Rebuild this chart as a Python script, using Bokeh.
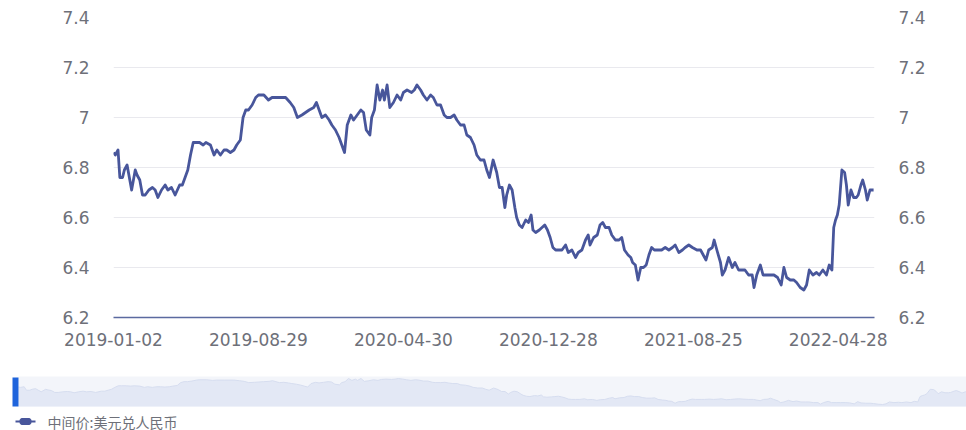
from bokeh.plotting import figure
from bokeh.models import Range1d, LinearAxis, FixedTicker
from bokeh.layouts import column
from bokeh.embed import file_html
from bokeh.resources import INLINE
from bokeh.core.properties import value

# ---------------- data ----------------
series_name = "中间价:美元兑人民币"
n_points = 840  # trading days on the category axis

day_index = [0, 2, 5, 7, 10, 12, 15, 18, 20, 24, 26, 29, 32, 35, 39, 43, 46, 49, 53, 57,
             60, 64, 68, 73, 76, 79, 82, 85, 88, 91, 95, 99, 102, 107, 111, 114, 118, 122, 125, 129,
             133, 136, 140, 143, 146, 149, 153, 157, 160, 166, 171, 175, 182, 190, 195, 199, 203, 208, 212, 216,
             221, 224, 227, 230, 234, 238, 241, 245, 249, 252, 255, 258, 262, 265, 269, 273, 276, 279, 283, 285,
             288, 291, 294, 297, 299, 302, 305, 309, 313, 317, 320, 324, 329, 332, 335, 339, 342, 346, 350, 353,
             357, 361, 365, 368, 372, 376, 379, 383, 387, 390, 394, 398, 401, 405, 409, 412, 415, 419, 423, 426,
             429, 432, 434, 437, 440, 443, 445, 448, 451, 455, 458, 461, 463, 466, 470, 473, 476, 479, 482, 485,
             488, 491, 495, 499, 502, 506, 510, 513, 517, 521, 524, 526, 530, 534, 537, 540, 543, 547, 550, 554,
             558, 561, 564, 568, 571, 573, 576, 579, 582, 585, 588, 591, 594, 597, 602, 605, 609, 613, 617, 620,
             624, 628, 631, 635, 639, 644, 648, 651, 654, 657, 661, 663, 666, 670, 672, 675, 679, 683, 686, 690,
             694, 697, 701, 705, 707, 710, 714, 717, 721, 725, 729, 733, 737, 740, 743, 747, 751, 754, 758, 762,
             765, 768, 772, 776, 779, 783, 787, 790, 793, 795, 797, 799, 801, 804, 807, 809, 811, 814, 817, 820,
             822, 825, 827, 830, 832, 835, 839]

rate = [6.86, 6.85, 6.87, 6.76, 6.76, 6.79, 6.81, 6.75, 6.71, 6.79, 6.77, 6.75, 6.69, 6.69, 6.71, 6.72, 6.71, 6.68, 6.71, 6.73,
        6.71, 6.72, 6.69, 6.73, 6.73, 6.76, 6.79, 6.85, 6.90, 6.90, 6.90, 6.89, 6.90, 6.89, 6.85, 6.87, 6.85, 6.87, 6.87, 6.86,
        6.87, 6.89, 6.91, 7.00, 7.03, 7.03, 7.05, 7.08, 7.09, 7.09, 7.07, 7.08, 7.08, 7.08, 7.06, 7.04, 7.00, 7.01, 7.02, 7.03,
        7.04, 7.06, 7.03, 7.00, 7.01, 6.99, 6.97, 6.95, 6.92, 6.89, 6.86, 6.97, 7.01, 6.99, 7.01, 7.03, 7.02, 6.95, 6.93, 7.00,
        7.03, 7.13, 7.07, 7.11, 7.07, 7.13, 7.04, 7.06, 7.09, 7.07, 7.10, 7.11, 7.10, 7.11, 7.13, 7.11, 7.09, 7.07, 7.09, 7.08,
        7.05, 7.05, 7.01, 7.00, 7.00, 7.01, 6.99, 6.97, 6.97, 6.93, 6.92, 6.89, 6.85, 6.83, 6.83, 6.79, 6.76, 6.83, 6.78, 6.72,
        6.72, 6.64, 6.69, 6.73, 6.71, 6.64, 6.60, 6.57, 6.56, 6.59, 6.58, 6.61, 6.55, 6.54, 6.55, 6.56, 6.57, 6.55, 6.52, 6.48,
        6.47, 6.47, 6.47, 6.49, 6.46, 6.47, 6.44, 6.46, 6.47, 6.51, 6.53, 6.49, 6.52, 6.53, 6.57, 6.58, 6.56, 6.56, 6.53, 6.51,
        6.51, 6.52, 6.47, 6.45, 6.44, 6.42, 6.41, 6.35, 6.40, 6.40, 6.41, 6.45, 6.48, 6.47, 6.47, 6.47, 6.48, 6.47, 6.48, 6.49,
        6.46, 6.47, 6.48, 6.49, 6.48, 6.47, 6.47, 6.45, 6.43, 6.47, 6.48, 6.51, 6.47, 6.42, 6.37, 6.39, 6.44, 6.40, 6.42, 6.39,
        6.39, 6.39, 6.37, 6.37, 6.32, 6.37, 6.41, 6.37, 6.37, 6.37, 6.37, 6.36, 6.33, 6.40, 6.36, 6.35, 6.35, 6.34, 6.32, 6.31,
        6.33, 6.39, 6.37, 6.38, 6.37, 6.39, 6.37, 6.41, 6.39, 6.56, 6.59, 6.61, 6.65, 6.79, 6.78, 6.73, 6.65, 6.71, 6.68, 6.68,
        6.69, 6.73, 6.75, 6.71, 6.67, 6.71, 6.71]

x_tick_index = [0, 160, 320, 480, 640, 800]
x_tick_labels = ["2019-01-02", "2019-08-29", "2020-04-30", "2020-12-28", "2021-08-25", "2022-04-28"]
y_ticks = [6.2, 6.4, 6.6, 6.8, 7.0, 7.2, 7.4]
y_tick_labels = ["6.2", "6.4", "6.6", "6.8", "7", "7.2", "7.4"]

# ---------------- styles ----------------
LINE = "#48569b"
LABEL = "#6e7079"
GRID = "#e9e9ee"
FONT = "DejaVu Sans"
CJK = "Noto Sans CJK SC"
W = 966

# ---------------- main chart ----------------
p = figure(width=W, height=353, output_backend="svg", toolbar_location=None,
           x_range=Range1d(0, n_points), y_range=Range1d(y_ticks[0], y_ticks[-1]),
           min_border_left=113, min_border_right=92, min_border_top=17, min_border_bottom=36,
           frame_align=False)
p.outline_line_color = None
p.background_fill_color = "white"
p.border_fill_color = "white"

p.line(day_index, rate, line_color=LINE, line_width=2.8, line_join="round")

xa = p.xaxis[0]
xa.ticker = FixedTicker(ticks=x_tick_index)
xa.major_label_overrides = {t: l for t, l in zip(x_tick_index, x_tick_labels)}
xa.major_tick_line_color = None
xa.minor_tick_line_color = None
xa.axis_line_color = "#5b6aa0"
xa.axis_line_width = 1.5
xa.major_label_standoff = 9
xa.major_label_text_font = FONT
xa.major_label_text_font_size = "17px"
xa.major_label_text_color = LABEL

ra = LinearAxis()
p.add_layout(ra, "right")
for ax in (p.yaxis[0], ra):
    ax.ticker = FixedTicker(ticks=y_ticks)
    ax.major_label_overrides = {t: l for t, l in zip(y_ticks, y_tick_labels)}
    ax.major_tick_line_color = None
    ax.minor_tick_line_color = None
    ax.axis_line_color = None
    ax.major_label_standoff = 18
    ax.major_label_text_font = FONT
    ax.major_label_text_font_size = "17px"
    ax.major_label_text_color = LABEL

p.xgrid.visible = False
p.ygrid.ticker = FixedTicker(ticks=y_ticks)
p.ygrid.grid_line_color = GRID
p.ygrid.grid_line_width = 1

# ---------------- data-zoom slider ----------------
SH = 57
sk = 1.134                     # px per trading day in the slider
sx0 = -18 / sk
sx1 = (W - 18) / sk
rmin, rmax = min(rate), max(rate)
u = (rmax - rmin) / 26.0       # value per px in the slider
s = figure(width=W, height=SH, output_backend="svg", toolbar_location=None,
           x_range=Range1d(sx0, sx1), y_range=Range1d(rmax - 32 * u, rmax + 25 * u),
           x_axis_location=None, y_axis_location=None, min_border=0, frame_align=False)
s.outline_line_color = None
s.grid.visible = False
band_top = rmax + 2 * u
band_bot = rmax - 28 * u
s.quad(left=[0], right=[sx1 + 50], top=[band_top], bottom=[band_bot],
       fill_color="#f3f5fa", line_color=None)
s.varea(x=day_index, y1=[band_bot] * len(day_index), y2=rate, fill_color="#e3e8f5")
s.line(day_index, rate, line_color="#d6ddef", line_width=1)
s.quad(left=[sx0 + 12 / sk], right=[0], top=[rmax + u], bottom=[band_bot],
       fill_color="#1f64dc", line_color=None)

# ---------------- legend ----------------
LH = 20
lg = figure(width=W, height=LH, output_backend="svg", toolbar_location=None,
            x_range=Range1d(0, W), y_range=Range1d(LH, 0),
            x_axis_location=None, y_axis_location=None, min_border=0, frame_align=False)
lg.outline_line_color = None
lg.grid.visible = False
lg.segment(x0=[15], y0=[11], x1=[35], y1=[11], line_color=LINE, line_width=2)
lg.rect(x=[25], y=[11], width=11, height=6, fill_color=LINE, line_color=LINE,
        border_radius=2)
lg.text(x=[47], y=[11], text=[series_name], text_font=value(CJK), text_font_size="14px",
        text_color=LABEL, text_baseline="middle", text_align="left")

layout = column(p, s, lg, spacing=0)
open("out.html", "w").write(file_html(layout, INLINE))
